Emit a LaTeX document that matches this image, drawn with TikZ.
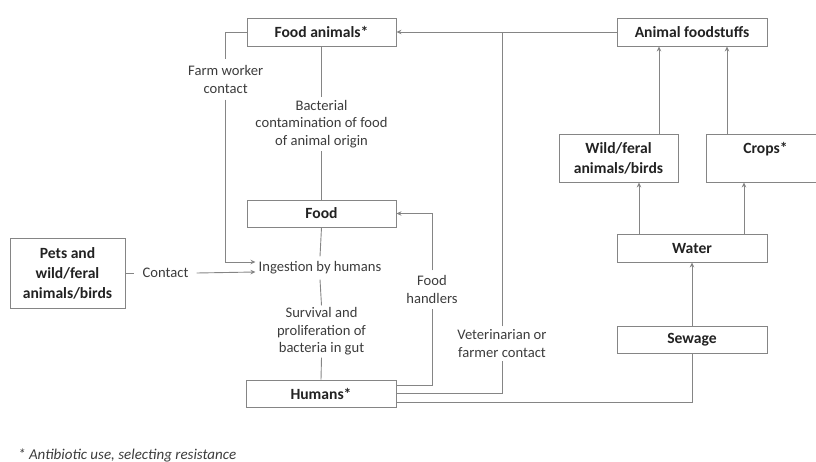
\documentclass[tikz,border=0pt]{standalone}
\usepackage{fontspec}
\setmainfont{Carlito}
\usetikzlibrary{arrows.meta}
\definecolor{linec}{HTML}{858585}
\definecolor{boldc}{HTML}{222222}
\definecolor{txtc}{HTML}{3C3C3C}
\begin{document}
\begin{tikzpicture}[x=1pt,y=-1pt,
  box/.style={draw=linec,line width=0.9pt,font=\fontsize{15.6}{20}\selectfont\bfseries,text=boldc,align=center,inner sep=0pt},
  lbl/.style={font=\fontsize{14.6}{17.5}\selectfont,text=txtc,align=center,inner xsep=2pt},
  conn/.style={draw=linec,line width=0.9pt},
  arr/.style={conn,-{Stealth[length=5pt,width=4.5pt]}}]
\useasboundingbox (0,0) rectangle (816,462);
\clip (0,0) rectangle (816,462);
% boxes
\node[box,minimum width=149pt,minimum height=28pt] (fa) at (321.5,32) {Food animals*};
\node[box,minimum width=149pt,minimum height=27pt] (food) at (321.5,213.5) {Food};
\node[box,minimum width=150pt,minimum height=27pt] (hum) at (321,393.5) {Humans*};
\node[box,minimum width=115pt,minimum height=70pt] (pets) at (67.5,273) {Pets and\\wild/feral\\animals/birds};
\node[box,minimum width=150pt,minimum height=28pt] (af) at (692,32) {Animal foodstuffs};
\node[box,minimum width=119pt,minimum height=48pt] (wild) at (618.5,158) {Wild/feral\\animals/birds};
\node[box,minimum width=119pt,minimum height=48pt] (crops) at (765.5,158) {Crops*\\\mbox{}};
\node[box,minimum width=150pt,minimum height=28pt] (water) at (692,248) {Water};
\node[box,minimum width=150pt,minimum height=27pt] (sewage) at (692,339.5) {Sewage};
% labels
\node[lbl,inner ysep=6pt] (fw) at (225.7,79.5) {Farm worker\\contact};
\node[lbl,inner ysep=3pt] (bact) at (321.5,124) {Bacterial\\contamination of food\\of animal origin};
\node[lbl,inner ysep=5pt,inner xsep=3pt] (ing) at (320,268) {Ingestion by humans};
\node[lbl,inner ysep=2pt] (surv) at (321.5,331.5) {Survival and\\proliferation of\\bacteria in gut};
\node[lbl,inner xsep=8pt] (contact) at (165.5,273) {Contact};
\node[lbl,inner ysep=5pt] (fh) at (432,289.5) {Food\\handlers};
\node[lbl,inner ysep=3pt] (vet) at (502,343.5) {Veterinarian or\\farmer contact};
\node[font=\fontsize{15}{17}\selectfont\itshape,text=txtc,anchor=west,inner sep=0pt] (note) at (18,455) {* Antibiotic use, selecting resistance};
% connectors
\draw[conn] (fa.west) -| (fw.north);
\draw[arr] (fw.south) |- ([yshift=6pt]ing.west);
\draw[conn] (pets.east) -- (contact.west);
\draw[arr] (contact.east) -- ([yshift=-4pt]ing.west);
\draw[conn] (fa.south) -- (bact.north);
\draw[conn] (bact.south) -- (food.north);
\draw[conn] (food.south) -- (ing.north);
\draw[conn] (ing.south) -- (surv.north);
\draw[conn] (surv.south) -- (hum.north);
\draw[conn] ([yshift=8.5pt]hum.east) -| (fh.south);
\draw[arr] (fh.north) |- (food.east);
\draw[conn] ([yshift=0.5pt]hum.east) -| (vet.south);
\draw[conn] (vet.north) -- (vet.north |- af.west);
\draw[arr] (af.west) -- (fa.east);
\draw[conn] (sewage.south) |- ([yshift=-8.5pt]hum.east);
\draw[arr] (sewage.north) -- (water.south);
\draw[arr] ([xshift=-53pt]water.north) -- ([xshift=-53pt]water.north |- wild.south);
\draw[arr] ([xshift=52pt]water.north) -- ([xshift=52pt]water.north |- crops.south);
\draw[arr] ([xshift=40.5pt]wild.north) -- ([xshift=40.5pt]wild.north |- af.south);
\draw[arr] ([xshift=-38.5pt]crops.north) -- ([xshift=-38.5pt]crops.north |- af.south);
\end{tikzpicture}
\end{document}
